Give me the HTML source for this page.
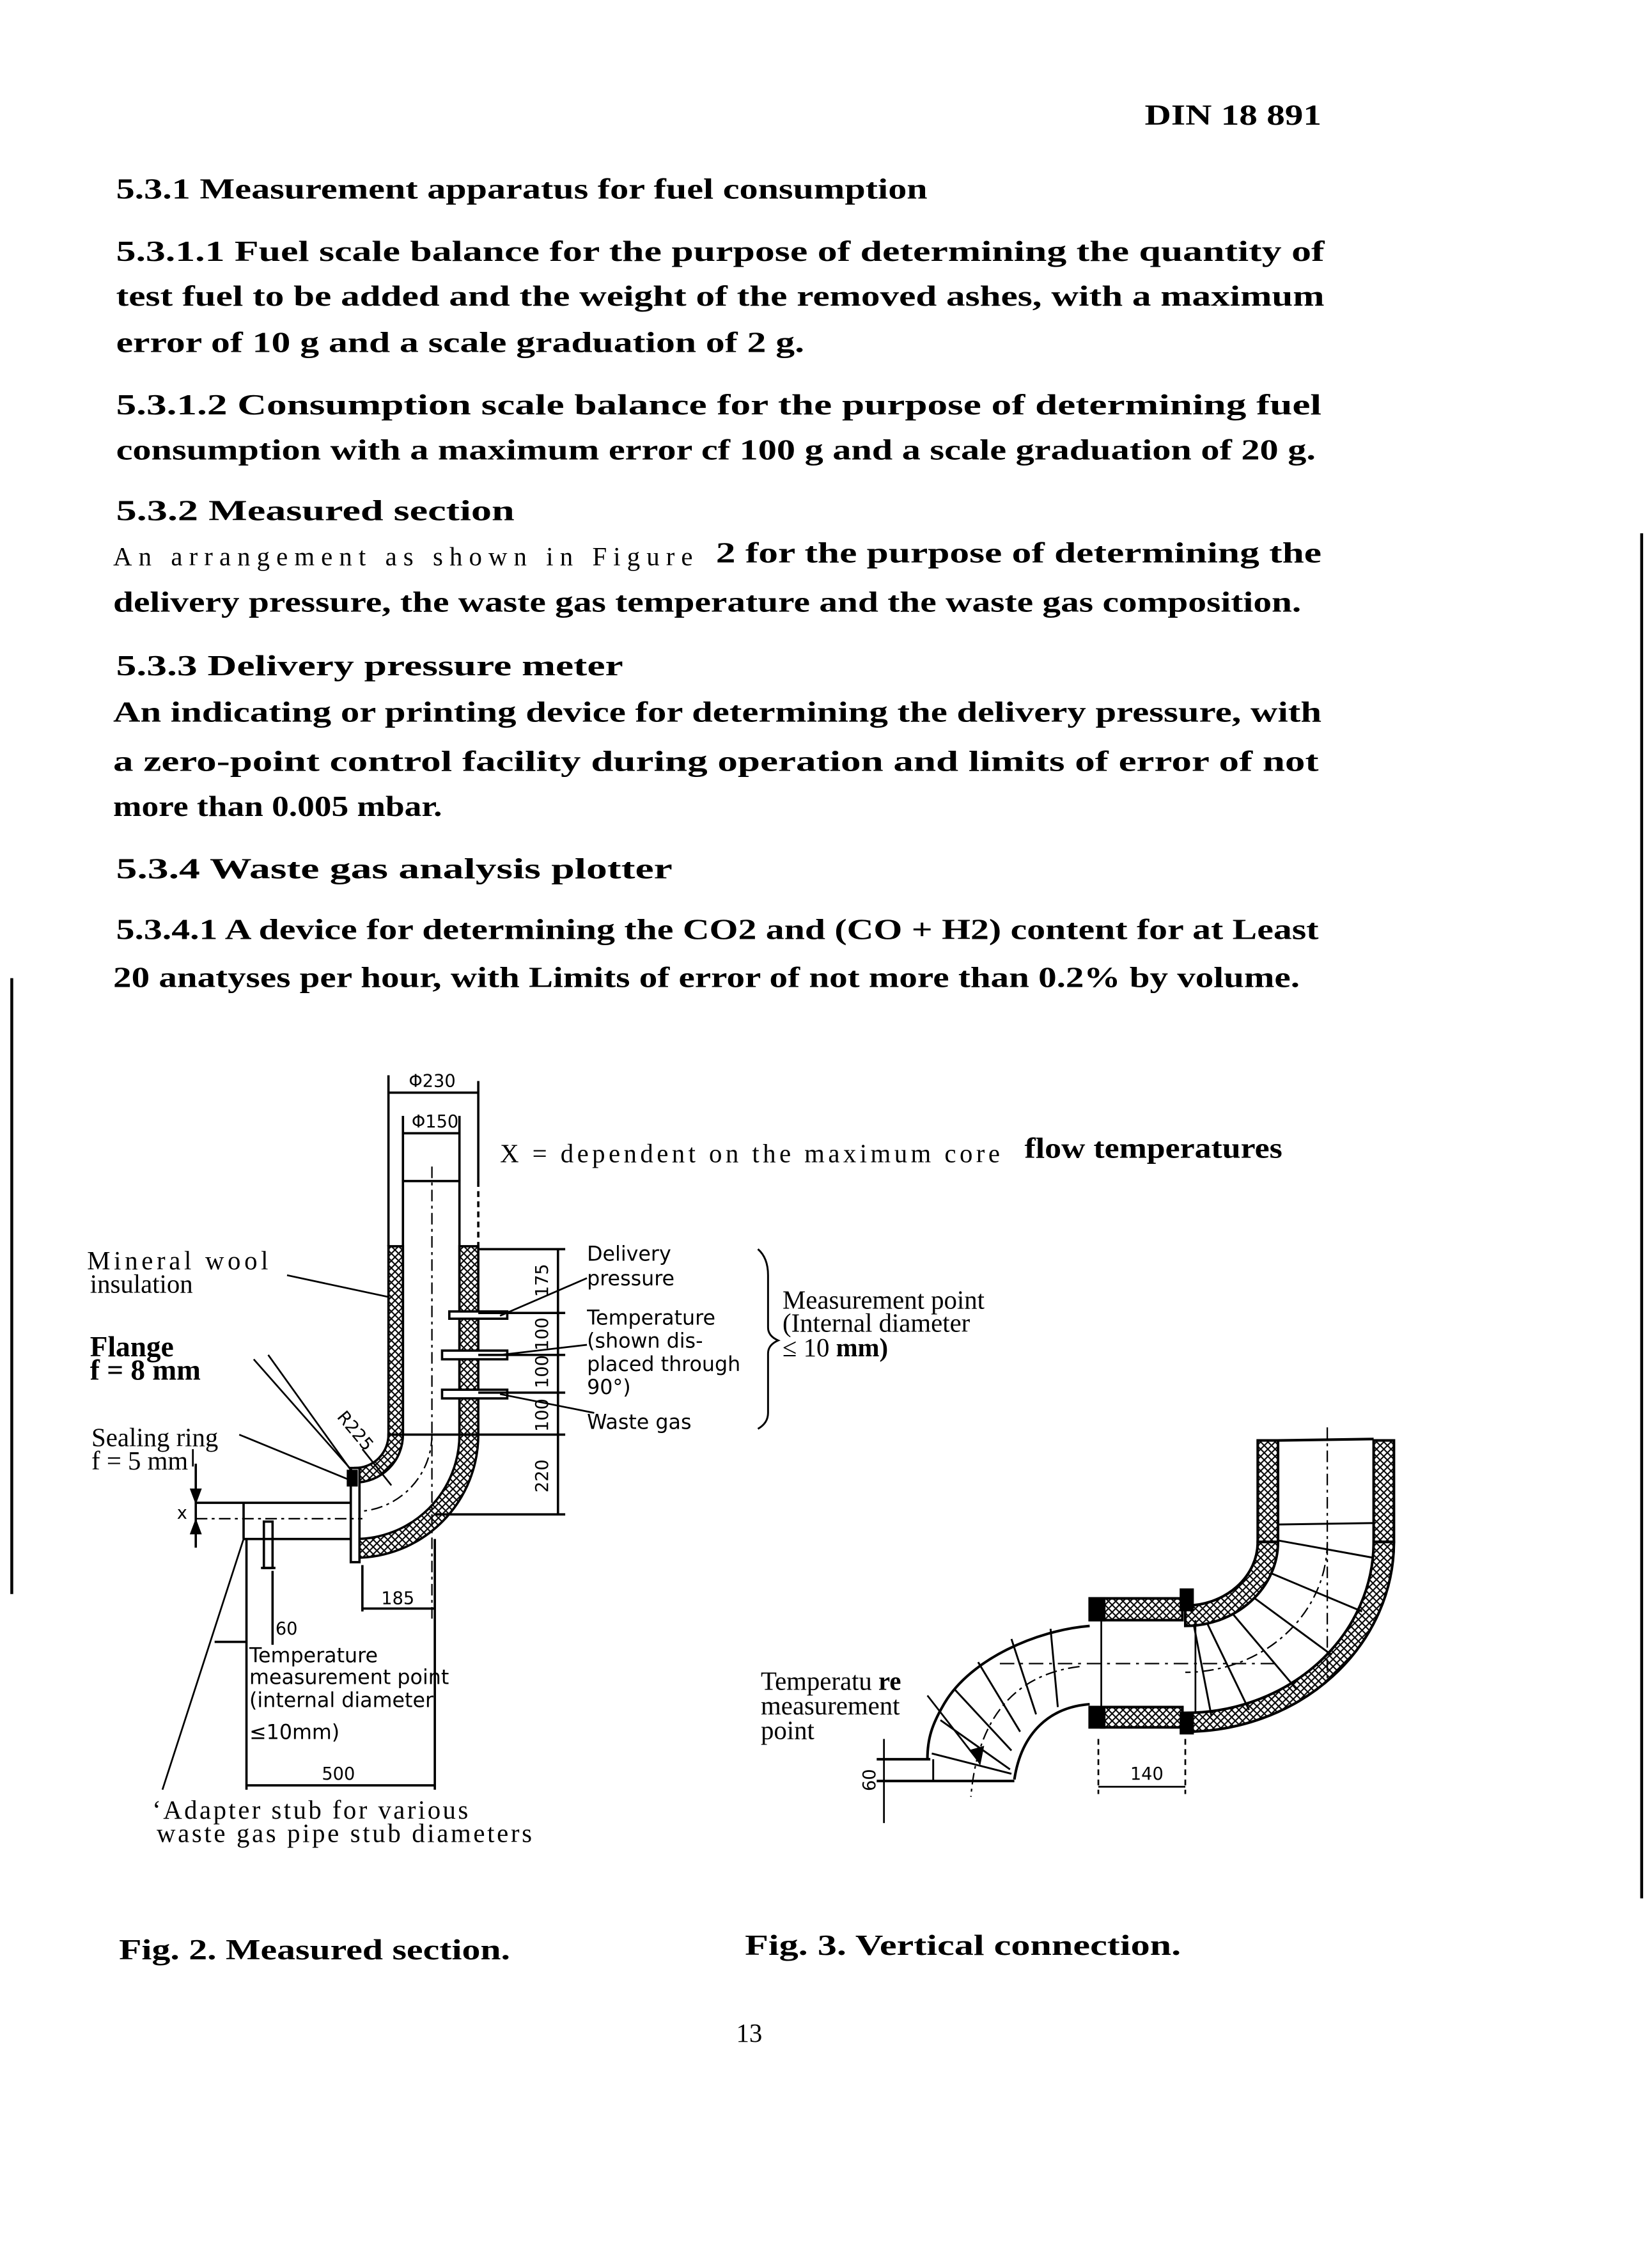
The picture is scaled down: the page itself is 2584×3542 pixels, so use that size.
<!DOCTYPE html>
<html><head><meta charset="utf-8"><style>
html,body{margin:0;padding:0;background:#fff;}
svg{display:block;}
.b{font-family:"Liberation Serif",serif;font-weight:bold;font-size:20px;fill:#000;}
.r{font-family:"Liberation Serif",serif;font-size:18px;fill:#000;}
.s{font-family:"DejaVu Sans","Liberation Sans",sans-serif;font-size:14px;fill:#000;}
.d{font-family:"DejaVu Sans","Liberation Sans",sans-serif;font-size:12px;fill:#000;}
</style></head><body>
<svg width="2584" height="3542" viewBox="0 0 1140 1563" xmlns="http://www.w3.org/2000/svg">
<defs>
<pattern id="h" width="5" height="5" patternUnits="userSpaceOnUse">
<path d="M0 0L5 5M5 0L0 5" stroke="#000" stroke-width="0.9"/>
</pattern>
</defs>
<rect width="1140" height="1563" fill="#fff"/>
<g lengthAdjust="spacingAndGlyphs">
<text class="b" x="790" y="86" textLength="122" lengthAdjust="spacingAndGlyphs">DIN 18 891</text>
<text class="b" x="80" y="137" textLength="560" lengthAdjust="spacingAndGlyphs">5.3.1    Measurement apparatus for fuel consumption</text>
<text class="b" x="80" y="180" textLength="834" lengthAdjust="spacingAndGlyphs">5.3.1.1 Fuel scale balance for the purpose of determining the quantity of</text>
<text class="b" x="80" y="211" textLength="834" lengthAdjust="spacingAndGlyphs">test fuel to be added and the weight of the removed ashes, with a maximum</text>
<text class="b" x="80" y="243" textLength="475" lengthAdjust="spacingAndGlyphs">error of 10 g and a scale graduation of 2 g.</text>
<text class="b" x="80" y="286" textLength="832" lengthAdjust="spacingAndGlyphs">5.3.1.2 Consumption scale balance for the purpose of determining fuel</text>
<text class="b" x="80" y="317" textLength="828" lengthAdjust="spacingAndGlyphs">consumption with a maximum error cf 100 g and a scale graduation of 20 g.</text>
<text class="b" x="80" y="359" textLength="275" lengthAdjust="spacingAndGlyphs">5.3.2    Measured  section</text>
<text class="r" x="78" y="390" textLength="400" lengthAdjust="spacing">An arrangement as shown in Figure</text>
<text class="b" x="494" y="388" textLength="418" lengthAdjust="spacingAndGlyphs">2 for the purpose of determining the</text>
<text class="b" x="78" y="422" textLength="820" lengthAdjust="spacingAndGlyphs">delivery pressure, the waste gas temperature and the waste gas composition.</text>
<text class="b" x="80" y="466" textLength="350" lengthAdjust="spacingAndGlyphs">5.3.3    Delivery  pressure  meter</text>
<text class="b" x="78" y="498" textLength="834" lengthAdjust="spacingAndGlyphs">An indicating or printing device for determining the delivery pressure, with</text>
<text class="b" x="78" y="532" textLength="832" lengthAdjust="spacingAndGlyphs">a zero-point control facility during operation and limits of error of not</text>
<text class="b" x="78" y="563" textLength="227" lengthAdjust="spacingAndGlyphs">more than 0.005 mbar.</text>
<text class="b" x="80" y="606" textLength="384" lengthAdjust="spacingAndGlyphs">5.3.4    Waste  gas  analysis  plotter</text>
<text class="b" x="80" y="648" textLength="830" lengthAdjust="spacingAndGlyphs">5.3.4.1 A device for determining the CO2 and (CO + H2) content for at Least</text>
<text class="b" x="78" y="681" textLength="819" lengthAdjust="spacingAndGlyphs">20 anatyses per hour, with Limits of error of not more than 0.2% by volume.</text>
</g>
<line x1="8" y1="675" x2="8" y2="1100" stroke="#000" stroke-width="2"/>
<line x1="1133" y1="368" x2="1133" y2="1310" stroke="#000" stroke-width="2"/>
<text class="b" x="82" y="1352" textLength="270" lengthAdjust="spacingAndGlyphs">Fig.  2.  Measured  section.</text>
<text class="b" x="514" y="1349" textLength="301" lengthAdjust="spacingAndGlyphs">Fig.  3.  Vertical  connection.</text>
<text class="r" x="508" y="1409" font-size="16">13</text>

<!-- FIG 2 -->
<g stroke="#000" fill="none" stroke-width="1.6">
<line x1="268" y1="754" x2="330" y2="754"/>
<line x1="278" y1="782" x2="317" y2="782"/>
<line x1="268" y1="742" x2="268" y2="860"/>
<line x1="330" y1="746" x2="330" y2="815"/>
<line x1="278" y1="770" x2="278" y2="815"/>
<line x1="317" y1="770" x2="317" y2="815"/>
<line x1="330" y1="815" x2="330" y2="860" stroke-dasharray="4,3"/>
<polyline points="278,990 278,815 317,815 317,990"/>
<line x1="298" y1="805" x2="298" y2="1120" stroke-dasharray="8,3,2,3" stroke-width="1"/>
<rect x="268" y="860" width="10" height="130" fill="url(#h)"/>
<rect x="317" y="860" width="13" height="130" fill="url(#h)"/>
<path d="M268 990 A23 23 0 0 1 245 1013 L245 1023 A33 33 0 0 0 278 990 Z" fill="url(#h)"/>
<path d="M317 990 A72 72 0 0 1 245 1062 L245 1075 A85 85 0 0 0 330 990 Z" fill="url(#h)"/>
<path d="M298 990 A53 53 0 0 1 245 1043" stroke-dasharray="8,3,2,3" stroke-width="1"/>
<rect x="242" y="1013" width="6" height="65" fill="#fff"/>
<rect x="240" y="1015" width="6" height="10" fill="#000"/>
<line x1="135" y1="1037" x2="242" y2="1037"/>
<line x1="168" y1="1062" x2="242" y2="1062"/>
<line x1="135" y1="1048" x2="250" y2="1048" stroke-dasharray="8,3,2,3" stroke-width="1"/>
<line x1="168" y1="1037" x2="168" y2="1062"/>
<rect x="182" y="1050" width="6" height="32"/>
<line x1="180" y1="1082" x2="190" y2="1082"/>
<line x1="135" y1="1010" x2="135" y2="1068"/>
<path d="M132 1028L135 1036L138 1028Z" fill="#000"/>
<path d="M132 1058L135 1050L138 1058Z" fill="#000"/>
<rect x="310" y="905" width="40" height="5" fill="#fff"/>
<rect x="305" y="932" width="45" height="6" fill="#fff"/>
<rect x="305" y="959" width="45" height="6" fill="#fff"/>
<line x1="330" y1="862" x2="390" y2="862"/>
<line x1="330" y1="906" x2="390" y2="906"/>
<line x1="330" y1="935" x2="390" y2="935"/>
<line x1="330" y1="961" x2="390" y2="961"/>
<line x1="278" y1="990" x2="390" y2="990"/>
<line x1="300" y1="1045" x2="390" y2="1045"/>
<line x1="385" y1="862" x2="385" y2="1045"/>
<line x1="250" y1="1080" x2="250" y2="1112"/>
<line x1="300" y1="1062" x2="300" y2="1235"/>
<line x1="250" y1="1110" x2="300" y2="1110"/>
<line x1="170" y1="1062" x2="170" y2="1235"/>
<line x1="188" y1="1084" x2="188" y2="1135"/>
<line x1="148" y1="1133" x2="170" y2="1133"/>
<line x1="170" y1="1232" x2="300" y2="1232"/>
<line x1="198" y1="880" x2="268" y2="895" stroke-width="1.2"/>
<line x1="175" y1="938" x2="243" y2="1015" stroke-width="1.2"/>
<line x1="185" y1="935" x2="246" y2="1020" stroke-width="1.2"/>
<line x1="165" y1="990" x2="243" y2="1022" stroke-width="1.2"/>
<line x1="133" y1="1012" x2="133" y2="1000" stroke-width="1.2"/>
<line x1="168" y1="1062" x2="112" y2="1235" stroke-width="1.2"/>
<line x1="345" y1="908" x2="405" y2="882" stroke-width="1.2"/>
<line x1="345" y1="935" x2="405" y2="928" stroke-width="1.2"/>
<line x1="345" y1="962" x2="410" y2="975" stroke-width="1.2"/>
<line x1="250" y1="1000" x2="270" y2="1025" stroke-width="1.2"/>
<path d="M523 862 Q530 868 530 880 L530 916 Q530 922 537 925 Q530 928 530 934 L530 975 Q530 982 523 986" stroke-width="1.3"/>
</g>
<text class="d" x="282" y="750">Φ230</text>
<text class="d" x="284" y="778">Φ150</text>
<text class="r" x="345" y="802" textLength="345" lengthAdjust="spacing">X = dependent on the maximum core</text>
<text class="b" x="707" y="799" textLength="178" lengthAdjust="spacingAndGlyphs">flow temperatures</text>
<text class="r" x="60" y="876" textLength="125" lengthAdjust="spacing">Mineral wool</text>
<text class="r" x="62" y="892">insulation</text>
<text class="b" x="62" y="936" font-size="17">Flange</text>
<text class="b" x="62" y="952" font-size="16">f = 8 mm</text>
<text class="r" x="63" y="998">Sealing ring</text>
<text class="r" x="63" y="1014">f = 5 mm</text>
<text class="d" x="122" y="1048">x</text>
<text class="s" x="405" y="870">Delivery</text>
<text class="s" x="405" y="887">pressure</text>
<text class="s" x="405" y="914">Temperature</text>
<text class="s" x="405" y="930">(shown dis-</text>
<text class="s" x="405" y="946">placed through</text>
<text class="s" x="405" y="962">90°)</text>
<text class="s" x="405" y="986">Waste gas</text>
<text class="r" x="540" y="903" font-size="17">Measurement  point</text>
<text class="r" x="540" y="919" font-size="17">(Internal   diameter</text>
<text class="r" x="540" y="936" font-size="17">≤ 10 <tspan font-weight="bold">mm)</tspan></text>
<g class="d">
<text transform="translate(378,895) rotate(-90)">175</text>
<text transform="translate(378,932) rotate(-90)">100</text>
<text transform="translate(378,958) rotate(-90)">100</text>
<text transform="translate(378,988) rotate(-90)">100</text>
<text transform="translate(378,1030) rotate(-90)">220</text>
<text transform="translate(232,978) rotate(50)">R225</text>
<text x="263" y="1107">185</text>
<text x="190" y="1128">60</text>
<text x="222" y="1228">500</text>
</g>
<text class="s" x="172" y="1147">Temperature</text>
<text class="s" x="172" y="1162">measurement point</text>
<text class="s" x="172" y="1178">(internal diameter</text>
<text class="s" x="172" y="1200" font-size="12">≤10mm)</text>
<text class="r" x="105" y="1255" font-size="17" textLength="218" lengthAdjust="spacing">‘Adapter stub for various</text>
<text class="r" x="108" y="1271" font-size="17" textLength="259" lengthAdjust="spacing">waste gas pipe stub diameters</text>

<!-- FIG 3 -->
<g stroke="#000" fill="none" stroke-width="1.8">
<rect x="868" y="994" width="14" height="70" fill="url(#h)"/>
<rect x="948" y="994" width="14" height="70" fill="url(#h)"/>
<line x1="882" y1="994" x2="948" y2="993"/>
<line x1="916" y1="985" x2="916" y2="1160" stroke-dasharray="8,3,2,3" stroke-width="1"/>
<path d="M882 1064 A64 58 0 0 1 818 1122 L818 1108 A50 44 0 0 0 868 1064 Z" fill="url(#h)"/>
<path d="M948 1064 A130 118 0 0 1 818 1182 L818 1195 A144 131 0 0 0 962 1064 Z" fill="url(#h)"/>
<path d="M916 1064 A98 90 0 0 1 818 1154" stroke-dasharray="8,3,2,3" stroke-width="1"/>
<g stroke-width="1.3">
<line x1="882" y1="1052" x2="948" y2="1051"/>
<line x1="882" y1="1063" x2="948" y2="1075"/>
<line x1="878" y1="1086" x2="940" y2="1112"/>
<line x1="866" y1="1103" x2="919" y2="1142"/>
<line x1="851" y1="1114" x2="895" y2="1166"/>
<line x1="833" y1="1120" x2="862" y2="1180"/>
<line x1="824" y1="1122" x2="836" y2="1184"/>
</g>
<rect x="760" y="1103" width="56" height="15" fill="url(#h)"/>
<rect x="760" y="1178" width="56" height="14" fill="url(#h)"/>
<rect x="752" y="1103" width="10" height="15" fill="#000"/>
<rect x="752" y="1178" width="10" height="14" fill="#000"/>
<rect x="815" y="1097" width="8" height="14" fill="#000"/>
<rect x="815" y="1182" width="8" height="14" fill="#000"/>
<line x1="760" y1="1118" x2="760" y2="1178" stroke-width="1.2"/>
<line x1="825" y1="1118" x2="825" y2="1182" stroke-width="1.2"/>
<line x1="690" y1="1148" x2="880" y2="1148" stroke-dasharray="10,4,2,4" stroke-width="1"/>
<path d="M752 1122 C715 1125 670 1145 652 1175 C643 1190 640 1200 640 1214"/>
<path d="M752 1176 C725 1178 705 1195 700 1228"/>
<path d="M745 1150 C705 1155 675 1180 670 1240" stroke-dasharray="8,3,2,3" stroke-width="1"/>
<g stroke-width="1.3">
<line x1="725" y1="1124" x2="730" y2="1178"/>
<line x1="698" y1="1131" x2="715" y2="1183"/>
<line x1="675" y1="1147" x2="704" y2="1195"/>
<line x1="659" y1="1166" x2="698" y2="1208"/>
<line x1="649" y1="1187" x2="697" y2="1221"/>
<line x1="643" y1="1210" x2="698" y2="1224"/>
</g>
<line x1="605" y1="1214" x2="642" y2="1214"/>
<line x1="605" y1="1229" x2="700" y2="1229"/>
<line x1="644" y1="1214" x2="644" y2="1229" stroke-width="1.3"/>
<line x1="610" y1="1200" x2="610" y2="1258" stroke-width="1.2"/>
<line x1="758" y1="1200" x2="758" y2="1238" stroke-dasharray="4,3" stroke-width="1.2"/>
<line x1="818" y1="1200" x2="818" y2="1238" stroke-dasharray="4,3" stroke-width="1.2"/>
<line x1="758" y1="1233" x2="818" y2="1233" stroke-width="1.2"/>
<line x1="640" y1="1170" x2="675" y2="1215" stroke-width="1.2"/>
<path d="M671 1208L676 1216L678 1206Z" fill="#000"/>
</g>
<text class="d" x="780" y="1228">140</text>
<text class="d" transform="translate(604,1236) rotate(-90)">60</text>
<text class="r" x="525" y="1166" font-size="16">Temperatu <tspan font-weight="bold">re</tspan></text>
<text class="r" x="525" y="1183" font-size="16">measurement</text>
<text class="r" x="525" y="1200" font-size="16">point</text>
</svg>
</body></html>
